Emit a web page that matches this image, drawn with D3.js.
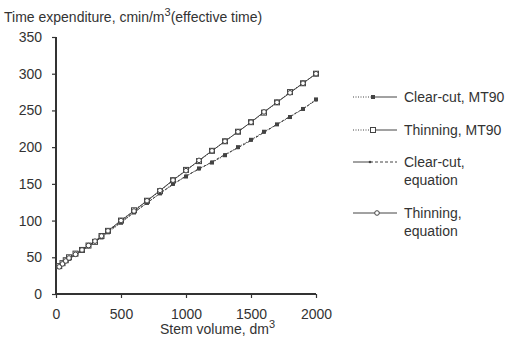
<!DOCTYPE html>
<html>
<head>
<meta charset="utf-8">
<script src="https://cdn.jsdelivr.net/npm/d3@7"></script>
<style>
  body { margin: 0; background: #fff; }
  text { font-family: "Liberation Sans", Arial, sans-serif; fill: #333; }
</style>
</head>
<body>
<div id="chart"></div>
<script>
// data
const stemVolume = [0, 25, 50, 75, 100, 150, 200, 250, 300, 350, 400, 500, 600, 700, 800, 900,
  1000, 1100, 1200, 1300, 1400, 1500, 1600, 1700, 1800, 1900, 2000];
const clearCutMT90 = [35, 37, 41, 45, 48, 54, 59, 65, 71, 77, 84, 97, 111, 124, 137, 150,
  160, 171, 179, 189, 200, 210, 221, 231, 241, 252, 265];
const thinningMT90 = [36, 38, 42, 46, 50, 55, 60, 66, 71, 79, 86, 100, 114, 127, 140, 155,
  169, 181, 195, 208, 221, 234, 247, 261, 275, 287, 300];
const clearCutEq = [34, 36, 40, 44, 48, 53, 59, 65, 71, 78, 85, 98, 111, 124, 137, 149,
  161, 170, 180, 190, 199, 209, 220, 231, 242, 252, 264];
const thinningEq = [35, 37, 41, 45, 49, 54, 60, 66, 72, 79, 86, 100, 113, 127, 141, 155,
  168, 182, 195, 208, 221, 234, 248, 261, 274, 287, 300];
const xTicks = [0, 500, 1000, 1500, 2000];
const yTicks = [0, 50, 100, 150, 200, 250, 300, 350];
const seriesNames = ["Clear-cut, MT90", "Thinning, MT90", "Clear-cut,|equation", "Thinning,|equation"];

const width = 512, height = 338;
const ink = "#444";
const fs = "14px";

const svg = d3.select('#chart')
  .append('svg')
  .attr('width', width)
  .attr('height', height);

const x = d3.scaleLinear().domain([0, 2000]).range([56, 316]);
const y = d3.scaleLinear().domain([0, 350]).range([294, 37]);

// title
const title = svg.append("text").attr("x", 4).attr("y", 22).style("font-size", fs);
title.append("tspan").text("Time expenditure, cmin/m");
title.append("tspan").attr("dy", -6).style("font-size", "11px").text("3");
title.append("tspan").attr("dy", 6).text("(effective time)");

// axes
const yAxis = svg.append("g")
  .attr("transform", `translate(${x(0)},0)`)
  .call(d3.axisLeft(y).tickValues(yTicks).tickSize(4).tickPadding(10).tickFormat(d3.format("d")));
const xAxis = svg.append("g")
  .attr("transform", `translate(0,${y(0)})`)
  .call(d3.axisBottom(x).tickValues(xTicks).tickSize(4).tickPadding(11).tickFormat(d3.format("d")));

[yAxis, xAxis].forEach(g => {
  g.select(".domain").attr("stroke", "#333").attr("stroke-width", 2);
  g.selectAll(".tick line").attr("stroke", "#333").attr("stroke-width", 1.2);
  g.selectAll(".tick text").style("font-size", fs).attr("fill", "#333")
    .style("font-family", '"Liberation Sans", Arial, sans-serif');
});
xAxis.select(".domain").attr("d", `M${x(0)},0H${x(2000)}`);
yAxis.select(".domain").attr("d", `M0,${y(0)}V${y(350)}`);

// x label
const xl = svg.append("text").attr("x", 160).attr("y", 334).style("font-size", fs);
xl.append("tspan").text("Stem volume, dm");
xl.append("tspan").attr("dy", -6).style("font-size", "11px").text("3");

// series
const series = [
  { name: seriesNames[0], values: clearCutMT90, dash: "1.5,1.5", marker: "fsquare" },
  { name: seriesNames[1], values: thinningMT90, dash: "1.5,1.5", marker: "osquare" },
  { name: seriesNames[2], values: clearCutEq, dash: "3,2", marker: "dot" },
  { name: seriesNames[3], values: thinningEq, dash: null, marker: "ocircle" }
];

const line = d3.line()
  .x((d, i) => x(stemVolume[i]))
  .y(d => y(d));

function drawMarker(g, type, cx, cy) {
  if (type === "fsquare") {
    g.append("rect").attr("x", cx - 2).attr("y", cy - 2).attr("width", 4).attr("height", 4)
      .attr("fill", ink);
  } else if (type === "osquare") {
    g.append("rect").attr("x", cx - 2.5).attr("y", cy - 2.5).attr("width", 5).attr("height", 5)
      .attr("fill", "#fff").attr("stroke", ink).attr("stroke-width", 1);
  } else if (type === "dot") {
    g.append("circle").attr("cx", cx).attr("cy", cy).attr("r", 1.3).attr("fill", ink);
  } else {
    g.append("circle").attr("cx", cx).attr("cy", cy).attr("r", 2.3)
      .attr("fill", "#fff").attr("stroke", ink).attr("stroke-width", 1);
  }
}

series.forEach(s => {
  svg.append("path")
    .datum(s.values)
    .attr("fill", "none")
    .attr("stroke", ink)
    .attr("stroke-width", 1)
    .attr("stroke-dasharray", s.dash)
    .attr("d", line);
});
series.forEach(s => {
  const g = svg.append("g");
  s.values.forEach((v, i) => {
    if (stemVolume[i] === 0) return;
    drawMarker(g, s.marker, x(stemVolume[i]), y(v));
  });
});

// legend
const legendY = [97, 130, 162, 213];
const legendStyle = [
  { left: "1,1.5", right: null, mx: 373 },
  { left: "1,1.5", right: null, mx: 373 },
  { left: null, right: "3,2", mx: 370 },
  { left: null, right: null, mx: 377 }
];
series.forEach((s, i) => {
  const g = svg.append("g");
  const ly = legendY[i];
  const st = legendStyle[i];
  g.append("line").attr("x1", 353).attr("x2", st.mx).attr("y1", ly).attr("y2", ly)
    .attr("stroke", ink).attr("stroke-width", 1).attr("stroke-dasharray", st.left);
  g.append("line").attr("x1", st.mx).attr("x2", 397).attr("y1", ly).attr("y2", ly)
    .attr("stroke", ink).attr("stroke-width", 1).attr("stroke-dasharray", st.right);
  drawMarker(g, s.marker, st.mx, ly);
  const t = g.append("text").attr("x", 404).attr("y", ly + 5).style("font-size", fs);
  s.name.split("|").forEach((part, k) => {
    t.append("tspan").attr("x", 404).attr("dy", k === 0 ? 0 : 18).text(part);
  });
});
</script>
</body>
</html>
